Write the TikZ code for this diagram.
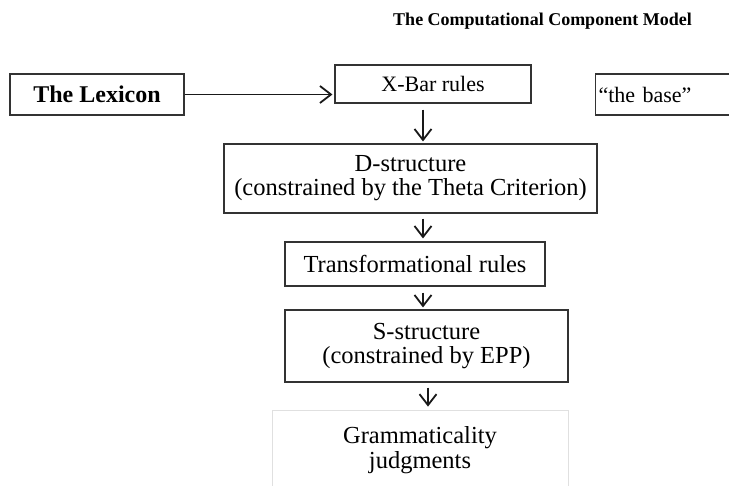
\documentclass[tikz,border=0pt]{standalone}
\usepackage{fontspec}
\setmainfont{Liberation Serif}
\usetikzlibrary{arrows.meta}
\tikzset{
  boxnode/.style={draw=black!80, line width=1.1pt, inner sep=0pt, align=center,
    font=\fontsize{24.5}{24}\selectfont},
  arr/.style={line width=1.8pt, draw=black!90,
    -{Straight Barb[length=11pt,width=17pt,line width=1.8pt]}},
}
\begin{document}
\begin{tikzpicture}[x=1pt,y=-1pt]
\useasboundingbox (0,0) rectangle (729,486);
\node[font=\bfseries\fontsize{18}{20}\selectfont, anchor=base] (title) at (542.5,26) {The Computational Component Model};
\node[boxnode, minimum width=174pt, minimum height=41pt, font=\bfseries\fontsize{24}{24}\selectfont] (lex) at (97,94.5) {The Lexicon};
\node[boxnode, minimum width=196pt, minimum height=38pt, font=\fontsize{22}{24}\selectfont] (xbar) at (433,84) {X-Bar rules};
\node[boxnode, anchor=west, minimum width=160pt, minimum height=41pt, text width=154pt, align=left, inner xsep=3pt, font=\fontsize{22}{24}\selectfont] (base) at (595,94.5) {\textquotedblleft the base\textquotedblright};
\node[boxnode, minimum width=373pt, minimum height=69pt] (dstr) at (410.5,178.5) {D-structure\\(constrained by the Theta Criterion)};
\node[boxnode, minimum width=260pt, minimum height=44pt] (trans) at (415,264) {Transformational rules};
\node[boxnode, minimum width=283pt, minimum height=72pt] (sstr) at (426.5,346) {S-structure\\(constrained by EPP)};
\node[boxnode, draw=black!12, line width=0.8pt, minimum width=296pt, minimum height=80pt, font=\fontsize{24.5}{25}\selectfont] (gram) at (420,450) {Grammaticality\\judgments};
\coordinate (a1) at (423,0);
\coordinate (a2) at (428,0);
\draw[arr, shorten >=2pt] (lex.east) -- (xbar.west |- lex.east);
\draw[arr, shorten <=6pt, shorten >=2pt] (xbar.south -| a1) -- (dstr.north -| a1);
\draw[arr, shorten <=5pt, shorten >=3pt] (dstr.south -| a1) -- (trans.north -| a1);
\draw[arr, shorten <=6pt, shorten >=2pt] (trans.south -| a1) -- (sstr.north -| a1);
\draw[arr, shorten <=5pt, shorten >=3pt] (sstr.south -| a2) -- (gram.north -| a2);
\end{tikzpicture}
\end{document}
